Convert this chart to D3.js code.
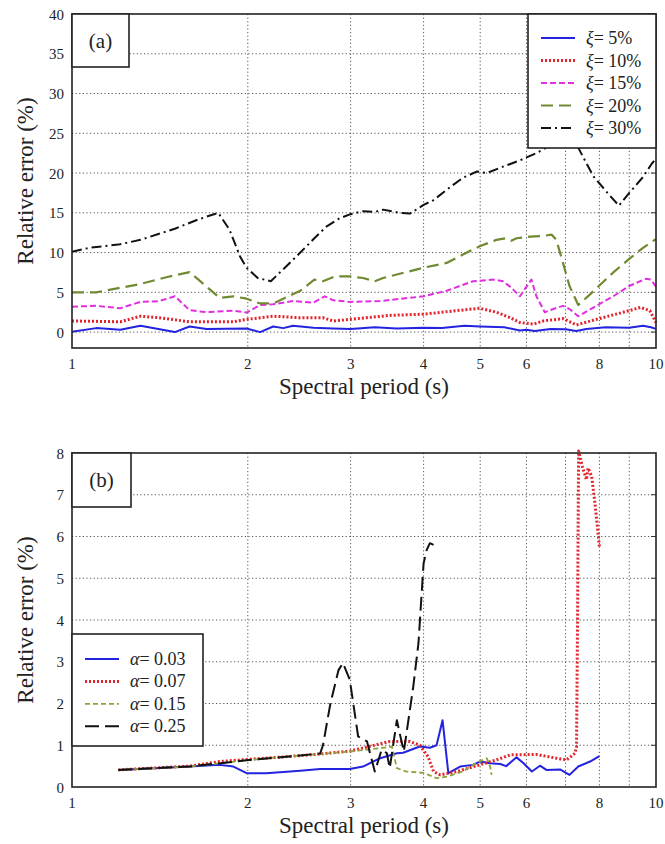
<!DOCTYPE html>
<html lang="en">
<head>
<meta charset="UTF-8">
<title>Relative error vs spectral period</title>
<style>
    body { margin: 0; background: #fff; }
    text { font-family: "Liberation Serif", "Times New Roman", "Liberation Sans", sans-serif; fill: #222; }
    .grid line { stroke: #555; stroke-width: 1; stroke-dasharray: 1.2, 2.4; }
    .frame { fill: none; stroke: #222; stroke-width: 1.6; }
    .box { fill: #fff; stroke: #222; stroke-width: 1.6; }
    .tick-lab { font-size: 15px; }
    .axis-title { font-size: 23px; }
    .legend-text { font-size: 18px; }
    .curve { fill: none; stroke-linejoin: round; }
</style>
</head>
<body>
<svg id="chart" width="665" height="844"></svg>
<script src="https://d3js.org/d3.v7.min.js"></script>
<script>
    // ---- data: [period (s), relative error (%)] ----
    // panel (a): damping ratio
    const xi5 = [[1,0.05],[1.1,0.5],[1.21,0.3],[1.31,0.8],[1.5,0.0],[1.59,0.7],[1.7,0.4],[1.99,0.45],[2.1,0.0],[2.21,0.7],[2.3,0.5],[2.39,0.8],[2.59,0.55],[2.8,0.45],[3.0,0.4],[3.3,0.6],[3.6,0.45],[4.0,0.55],[4.3,0.5],[4.7,0.8],[5.0,0.7],[5.5,0.6],[5.85,0.2],[6.0,0.3],[6.2,0.15],[6.6,0.4],[7.0,0.35],[7.3,0.15],[7.6,0.4],[8.2,0.6],[9.0,0.55],[9.5,0.8],[9.8,0.6],[10,0.4]];
    const xi10 = [[1,1.4],[1.21,1.3],[1.31,2.0],[1.41,1.8],[1.59,1.3],[1.89,1.3],[1.99,1.6],[2.21,2.0],[2.46,1.8],[2.69,1.8],[2.8,1.4],[2.99,1.6],[3.5,2.1],[4.0,2.25],[4.56,2.7],[4.99,3.0],[5.33,2.5],[5.63,1.8],[5.85,1.2],[6.17,1.0],[6.41,1.4],[6.93,1.7],[7.31,0.9],[7.9,1.6],[9.0,2.7],[9.4,3.1],[9.76,2.7],[10,1.2]];
    const xi15 = [[1,3.2],[1.1,3.3],[1.21,3.0],[1.31,3.8],[1.41,3.9],[1.5,4.5],[1.59,2.75],[1.7,2.5],[1.89,2.7],[1.99,2.45],[2.1,3.4],[2.21,3.5],[2.39,3.9],[2.59,3.7],[2.71,4.5],[2.8,4.0],[2.99,3.8],[3.37,3.9],[4.0,4.5],[4.38,5.2],[4.86,6.4],[5.26,6.6],[5.47,6.4],[5.65,5.6],[5.85,4.5],[5.96,5.4],[6.12,6.6],[6.24,4.5],[6.45,2.5],[6.67,2.9],[6.93,3.3],[7.11,2.9],[7.36,2.0],[7.9,3.3],[8.45,4.5],[9.0,5.8],[9.6,6.7],[9.8,6.6],[10,5.7]];
    const xi20 = [[1,5.0],[1.1,5.0],[1.3,6.0],[1.45,6.9],[1.59,7.55],[1.79,4.3],[1.89,4.5],[1.99,4.2],[2.1,3.6],[2.21,3.6],[2.46,5.2],[2.6,6.6],[2.69,6.4],[2.82,7.0],[2.99,7.0],[3.15,6.8],[3.3,6.4],[3.41,6.8],[4.0,8.1],[4.38,8.7],[4.67,9.75],[4.99,10.8],[5.33,11.6],[5.54,11.8],[5.65,11.5],[5.77,11.8],[6.09,12.0],[6.41,12.1],[6.63,12.25],[6.75,11.6],[6.93,8.7],[7.11,5.8],[7.36,3.4],[7.71,4.75],[8.45,7.5],[9.0,9.2],[9.5,10.6],[10,11.7]];
    const xi30 = [[1,10.1],[1.07,10.6],[1.2,11.0],[1.31,11.6],[1.5,13.0],[1.65,14.2],[1.78,15.0],[1.86,12.9],[1.94,9.5],[1.99,8.1],[2.08,6.8],[2.19,6.4],[2.3,7.9],[2.46,10.0],[2.6,11.8],[2.73,13.3],[2.87,14.3],[2.99,14.8],[3.15,15.2],[3.3,15.1],[3.41,15.4],[3.64,15.0],[3.79,14.9],[4.0,16.0],[4.16,16.6],[4.38,17.9],[4.67,19.4],[4.94,20.2],[5.13,20.0],[5.47,20.8],[5.85,21.6],[6.24,22.5],[6.6,23.5],[6.9,24.2],[7.1,24.5],[7.37,23.1],[7.81,19.6],[8.26,17.5],[8.64,15.9],[9.0,17.5],[9.5,19.5],[9.84,21.2],[10,21.8]];

    // panel (b): alpha
    const a003 = [[1.2,0.41],[1.59,0.49],[1.79,0.53],[1.89,0.49],[1.99,0.33],[2.15,0.33],[2.46,0.39],[2.66,0.43],[2.99,0.43],[3.15,0.49],[3.37,0.69],[3.6,0.81],[3.69,0.82],[3.94,0.97],[4.1,0.94],[4.21,1.0],[4.31,1.6],[4.41,0.33],[4.62,0.49],[4.86,0.53],[4.99,0.61],[5.2,0.57],[5.41,0.55],[5.54,0.5],[5.77,0.71],[5.92,0.58],[6.13,0.37],[6.33,0.51],[6.49,0.41],[6.85,0.42],[7.11,0.29],[7.36,0.49],[7.71,0.61],[8.0,0.74]];
    const a007 = [[1.2,0.41],[1.59,0.5],[1.79,0.61],[1.99,0.66],[2.3,0.72],[2.66,0.79],[2.99,0.86],[3.5,1.09],[3.79,1.09],[3.94,1.0],[4.07,0.73],[4.16,0.37],[4.27,0.29],[4.56,0.37],[4.99,0.53],[5.33,0.65],[5.63,0.77],[6.24,0.78],[6.75,0.69],[7.03,0.65],[7.27,0.81],[7.31,0.97],[7.34,4.0],[7.37,8.05],[7.48,7.68],[7.6,7.36],[7.65,7.64],[7.76,7.44],[7.86,6.8],[8.0,5.76]];
    const a015 = [[1.2,0.41],[1.59,0.49],[1.99,0.64],[2.3,0.72],[2.66,0.79],[2.99,0.85],[3.37,0.93],[3.53,0.97],[3.6,0.45],[3.74,0.37],[4.0,0.34],[4.21,0.21],[4.38,0.25],[4.67,0.37],[4.92,0.57],[5.13,0.69],[5.2,0.49],[5.23,0.29]];
    const a025 = [[1.2,0.41],[1.59,0.49],[1.99,0.64],[2.3,0.72],[2.66,0.8],[2.69,1.0],[2.77,2.0],[2.86,2.8],[2.91,2.97],[2.99,2.57],[3.09,1.21],[3.2,1.09],[3.3,0.37],[3.39,0.89],[3.46,0.81],[3.5,0.45],[3.6,1.6],[3.64,1.29],[3.7,0.85],[3.84,2.4],[3.92,3.45],[4.0,5.36],[4.05,5.68],[4.1,5.84],[4.16,5.8]];

    const labelsA = ["5%", "10%", "15%", "20%", "30%"];
    const labelsB = ["0.03", "0.07", "0.15", "0.25"];
    const xTickLabels = [1, 2, 3, 4, 5, 6, 8, 10];
    const xGrid = [2, 3, 4, 5, 6, 7, 8, 9];
    const yTicksA = [0, 5, 10, 15, 20, 25, 30, 35, 40];
    const yTicksB = [0, 1, 2, 3, 4, 5, 6, 7, 8];

    // ---- styles ----
    const stylesA = [
        { color: "#2323e0", width: 2, dash: null },
        { color: "#e3232b", width: 3, dash: "2,2" },
        { color: "#e02fe0", width: 2, dash: "6,3" },
        { color: "#6f8a30", width: 2.2, dash: "12,6" },
        { color: "#111", width: 2, dash: "10,4,2,4" }
    ];
    const stylesB = [
        { color: "#2323e0", width: 2, dash: null },
        { color: "#e3232b", width: 3, dash: "2,2" },
        { color: "#8ea33a", width: 1.8, dash: "5,3" },
        { color: "#111", width: 2, dash: "14,6" }
    ];

    const svg = d3.select("#chart");
    const x = d3.scaleLog().domain([1, 10]).range([72, 656]);

    function drawPanel(p) {
        const g = svg.append("g");
        const y = d3.scaleLinear().domain(p.yDomain).range([p.bottom, p.top]);
        const [x0, x1] = x.range();

        // grid
        const grid = g.append("g").attr("class", "grid");
        grid.selectAll("line.v").data(xGrid).join("line")
            .attr("x1", d => x(d)).attr("x2", d => x(d))
            .attr("y1", p.top).attr("y2", p.bottom);
        grid.selectAll("line.h").data(p.yGrid).join("line")
            .attr("x1", x0).attr("x2", x1)
            .attr("y1", d => y(d)).attr("y2", d => y(d));

        // small inner ticks on the right side
        g.selectAll("line.rt").data(p.yGrid).join("line")
            .attr("x1", x1 - 5).attr("x2", x1)
            .attr("y1", d => y(d)).attr("y2", d => y(d))
            .attr("stroke", "#333").attr("stroke-width", 1);

        // curves
        const line = d3.line().x(d => x(d[0])).y(d => y(d[1]));
        p.series.forEach((s, i) => {
            const st = p.styles[i];
            g.append("path").attr("class", "curve")
                .attr("d", line(s))
                .attr("stroke", st.color)
                .attr("stroke-width", st.width)
                .attr("stroke-dasharray", st.dash);
        });

        // frame
        g.append("rect").attr("class", "frame")
            .attr("x", x0).attr("y", p.top)
            .attr("width", x1 - x0).attr("height", p.bottom - p.top);

        // tick labels
        g.append("g").selectAll("text").data(xTickLabels).join("text")
            .attr("class", "tick-lab")
            .attr("x", d => x(d)).attr("y", p.bottom + 21)
            .attr("text-anchor", "middle")
            .text(d => d);
        g.append("g").selectAll("text").data(p.yTicks).join("text")
            .attr("class", "tick-lab")
            .attr("x", x0 - 8).attr("y", d => y(d) + 5.5)
            .attr("text-anchor", "end")
            .text(d => d);

        // axis titles
        g.append("text").attr("class", "axis-title")
            .attr("x", (x0 + x1) / 2).attr("y", p.bottom + 46)
            .attr("text-anchor", "middle")
            .text("Spectral period (s)");
        g.append("text").attr("class", "axis-title")
            .attr("transform", `translate(33,${(p.top + p.bottom) / 2}) rotate(-90)`)
            .attr("text-anchor", "middle")
            .text("Relative error (%)");

        // panel tag box
        g.append("rect").attr("class", "box")
            .attr("x", x0).attr("y", p.top)
            .attr("width", p.tagW).attr("height", p.tagH);
        g.append("text").attr("class", "axis-title")
            .style("font-size", "21px")
            .attr("x", x0 + p.tagW / 2).attr("y", p.top + p.tagH / 2 + 7)
            .attr("text-anchor", "middle")
            .text(p.tag);

        // legend
        const lg = p.legend;
        g.append("rect").attr("class", "box")
            .attr("x", lg.x).attr("y", lg.y)
            .attr("width", lg.w).attr("height", lg.h);
        p.labels.forEach((lab, i) => {
            const st = p.styles[i];
            const ry = lg.y + lg.first + i * lg.step;
            g.append("line")
                .attr("x1", lg.x + lg.lx0).attr("x2", lg.x + lg.lx1)
                .attr("y1", ry).attr("y2", ry)
                .attr("stroke", st.color)
                .attr("stroke-width", st.width)
                .attr("stroke-dasharray", st.dash);
            const t = g.append("text").attr("class", "legend-text")
                .attr("x", lg.x + lg.tx).attr("y", ry + 6);
            t.append("tspan").style("font-style", "italic").text(p.symbol);
            t.append("tspan").text("= " + lab);
        });
    }

    drawPanel({
        top: 14, bottom: 348, yDomain: [-2, 40],
        yTicks: yTicksA, yGrid: [0, 5, 10, 15, 20, 25, 30, 35],
        series: [xi5, xi10, xi15, xi20, xi30], styles: stylesA,
        labels: labelsA, symbol: "\u03be",
        tag: "(a)", tagW: 57, tagH: 53,
        legend: { x: 528, y: 14, w: 128, h: 134, first: 24, step: 22.5, lx0: 13, lx1: 47, tx: 58 }
    });

    drawPanel({
        top: 453, bottom: 787, yDomain: [0, 8],
        yTicks: yTicksB, yGrid: [1, 2, 3, 4, 5, 6, 7],
        series: [a003, a007, a015, a025], styles: stylesB,
        labels: labelsB, symbol: "\u03b1",
        tag: "(b)", tagW: 59, tagH: 54,
        legend: { x: 72, y: 634, w: 131, h: 112, first: 25, step: 22.4, lx0: 13, lx1: 47, tx: 58 }
    });
</script>
</body>
</html>
